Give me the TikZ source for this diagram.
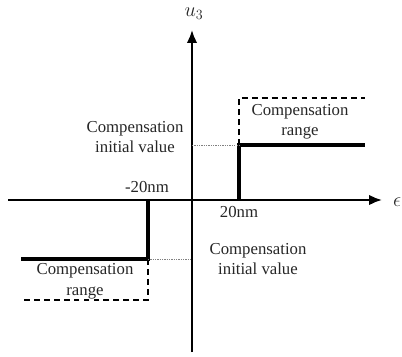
\documentclass[tikz,border=0pt]{standalone}
\usepackage{fontspec}
\setmainfont{Liberation Serif}
\usetikzlibrary{
    arrows.meta,
    positioning
}
\tikzstyle{axis} = [
    line width=1.9pt,
    -{Latex[length=11pt,width=9pt]}
]
\tikzstyle{curve} = [
    line width=2.8pt
]
\tikzstyle{rangeline} = [
    line width=1.2pt,
    dash pattern=on 5pt off 3.5pt
]
\tikzstyle{guide} = [
    gray,
    line width=0.5pt,
    dash pattern=on 1pt off 1pt
]
\tikzstyle{lbl} = [
    align=center,
    text=black!85,
    inner sep=0pt,
    font=\fontsize{14.3}{17.5}\selectfont
]

\begin{document}
\begin{tikzpicture}[x=0.03cm, y=-0.03cm]
\useasboundingbox (0,0) rectangle (402,356);

% Achsen
\coordinate (xl) at (8,200);
\coordinate (xr) at (382,200);
\coordinate (yb) at (192,352);
\coordinate (yt) at (192,30);
\draw[axis] (xl) -- (xr);
\draw[axis] (yb) -- (yt);
\node[lbl, font=\fontsize{17}{20}\selectfont] (u) at (194,14) {$u_3$};
\node[lbl, anchor=west, font=\fontsize{17}{20}\selectfont] (e) at (393,202) {$\epsilon$};

% Kennlinie rechts
\coordinate (p0) at (239,200);
\coordinate (p1) at (239,145);
\coordinate (p2) at (365,145);
\coordinate (pt) at (239,98);
\coordinate (pr) at (365,98);
\draw[curve] (p0) -- (p1) -- (p2);
\draw[rangeline] (p1) -- (pt) -- (pr);
\draw[guide] (192,145) -- (p1);

% Kennlinie links
\coordinate (n0) at (148,200);
\coordinate (n1) at (148,259);
\coordinate (n2) at (21,259);
\coordinate (nb) at (148,300);
\coordinate (nl) at (21,300);
\draw[curve] (n0) -- (n1) -- (n2);
\draw[rangeline] (n1) -- (nb) -- (nl);
\draw[guide] (n1) -- (192,259);

% Beschriftungen
\node[lbl] (pos) at (239,212) {20nm};
\node[lbl] (neg) at (147,187) {-20nm};
\node[lbl] (rangeR) at (300,122) {Compensation\\range};
\node[lbl] (initL) at (135,137) {Compensation\\initial value};
\node[lbl] (initR) at (258,259) {Compensation\\initial value};
\node[lbl] (rangeL) at (85,281) {Compensation\\range};
\end{tikzpicture}
\end{document}
